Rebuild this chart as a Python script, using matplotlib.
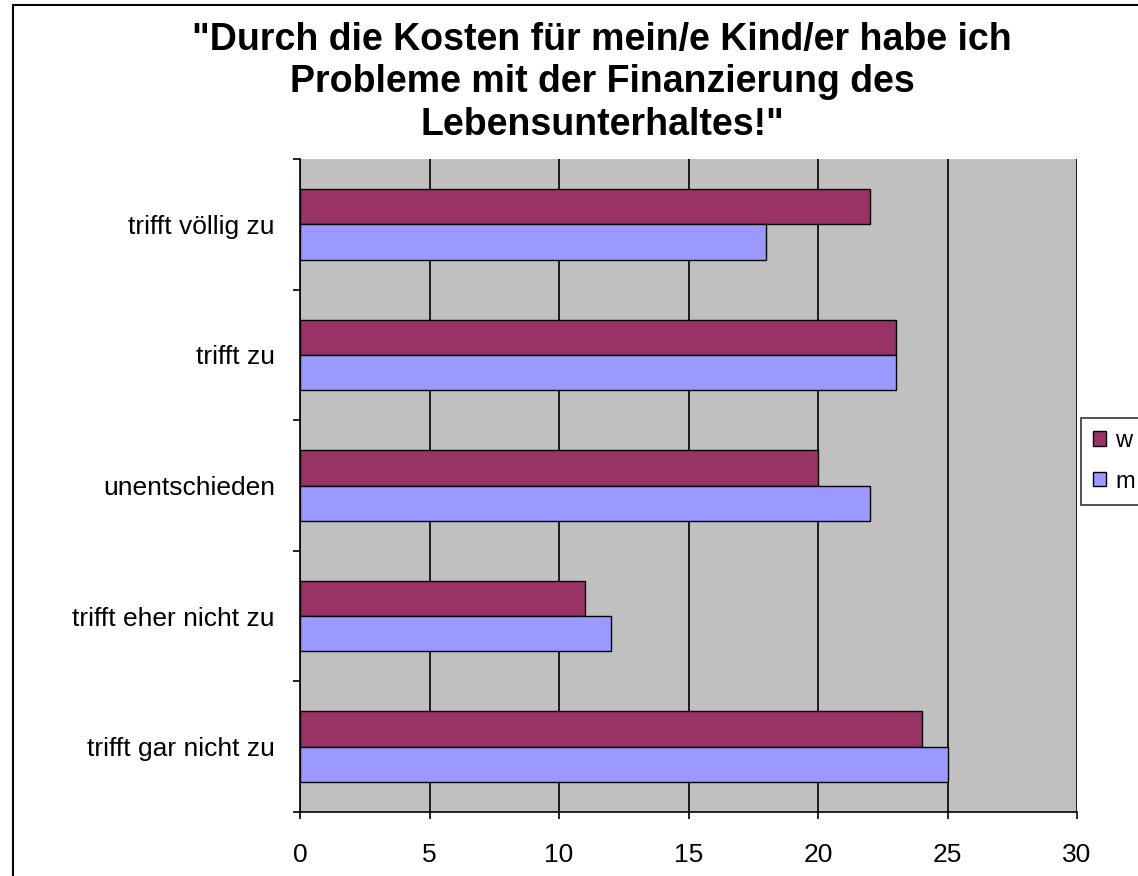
import numpy as np
import matplotlib.pyplot as plt
from matplotlib.patches import Rectangle

plt.rcParams["font.family"] = ["Liberation Sans", "DejaVu Sans"]

# data, read top to bottom
categories = ["trifft völlig zu", "trifft zu", "unentschieden",
              "trifft eher nicht zu", "trifft gar nicht zu"]
w_values = [22, 23, 20, 11, 24]
m_values = [18, 23, 22, 12, 25]
x_ticks = [0, 5, 10, 15, 20, 25, 30]

W, H = 1138, 876
fig = plt.figure(figsize=(W / 100, H / 100), dpi=100)
ax = fig.add_axes([300 / W, 1 - 812 / H, 777 / W, 653 / H])
ax.set_facecolor("#C0C0C0")

n = len(categories)
pos = np.arange(n)[::-1] + 0.5  # top category at top
h = 0.27
ax.barh(pos + h / 2, w_values, height=h, color="#993366",
        edgecolor="black", linewidth=1, label="w", zorder=3)
ax.barh(pos - h / 2, m_values, height=h, color="#9999FF",
        edgecolor="black", linewidth=1, label="m", zorder=3)

ax.set_xlim(0, 30)
ax.set_ylim(0, n)
ax.set_xticks(x_ticks)
ax.set_xticklabels([str(t) for t in x_ticks], fontsize=19)
ax.xaxis.grid(True, color="black", linewidth=1.2, zorder=1)
ax.set_axisbelow(True)

# category boundaries as ticks, labels at centres
ax.set_yticks(np.arange(n + 1))
ax.set_yticklabels([])
ax.set_yticks(pos, minor=True)
ax.set_yticklabels(categories, minor=True, fontsize=19)
ax.tick_params(axis="y", which="major", length=5, width=1.2, direction="out")
ax.tick_params(axis="y", which="minor", length=0, pad=18)
ax.tick_params(axis="x", length=5, width=1.2, direction="out", pad=17)

for side in ["top", "right"]:
    ax.spines[side].set_visible(False)
ax.spines["left"].set_linewidth(1.2)
ax.spines["bottom"].set_linewidth(1.2)

fig.text(602 / W, 1 - 22 / H,
         "\"Durch die Kosten für mein/e Kind/er habe ich\n"
         "Probleme mit der Finanzierung des\n"
         "Lebensunterhaltes!\"",
         ha="center", va="top", fontsize=27, fontweight="bold",
         linespacing=1.23)

leg = ax.legend(loc="upper left", bbox_to_anchor=(1081 / W, 1 - 418 / H),
                bbox_transform=fig.transFigure, borderaxespad=0,
                fontsize=17, frameon=True, fancybox=False, edgecolor="black",
                handlelength=0.55, handleheight=0.55, handletextpad=0.4,
                borderpad=0.5, labelspacing=0.8)
leg.get_frame().set_linewidth(1.2)

fig.patches.append(Rectangle((13 / W, -0.1), 1.2, 1.1 - 5 / H,
                             transform=fig.transFigure, fill=False,
                             edgecolor="black", linewidth=1.5))

fig.savefig("out.png", dpi=100)
